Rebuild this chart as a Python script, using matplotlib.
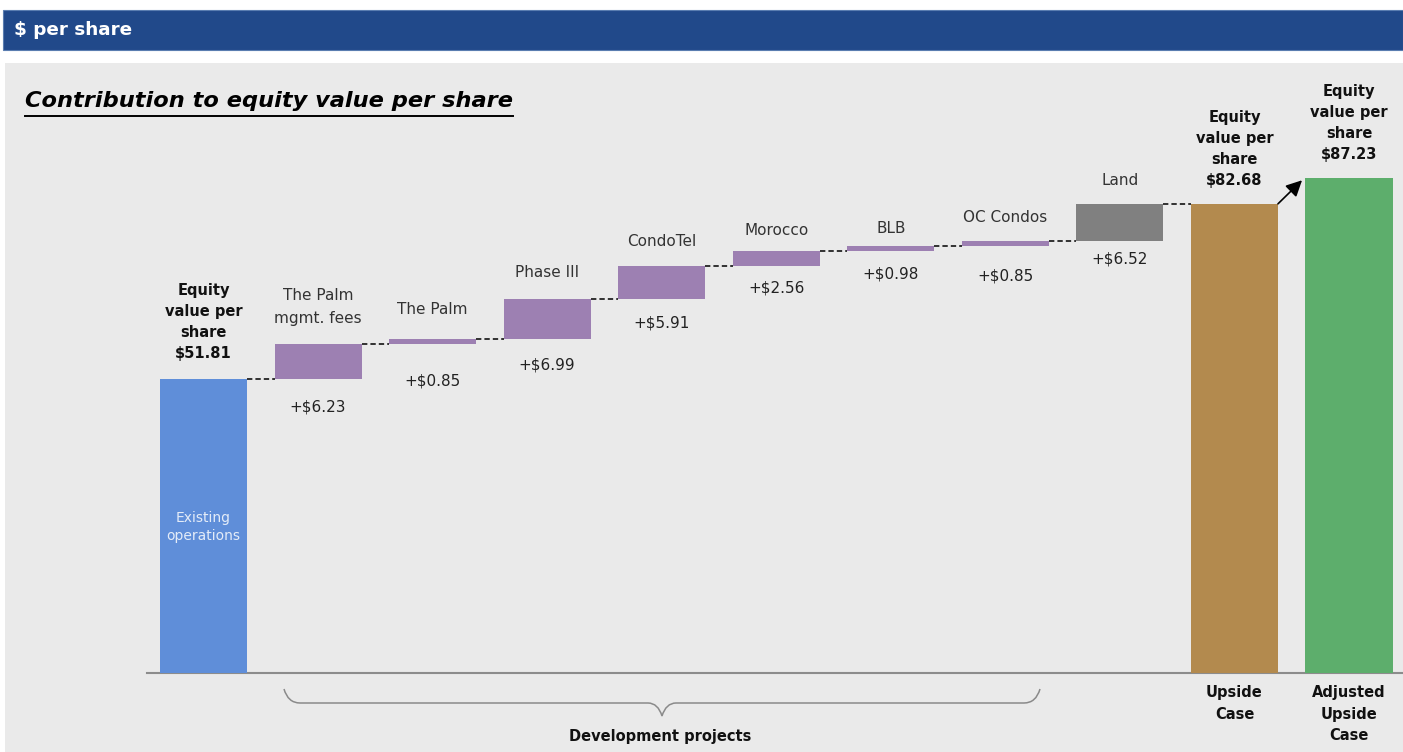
import matplotlib
matplotlib.use("Agg")
import matplotlib.pyplot as plt
import numpy as np
from matplotlib.path import Path
from matplotlib.patches import PathPatch, Rectangle

# ---------------- data ----------------
start_label = "Equity\nvalue per\nshare\n$51.81"
start_value = 51.81
project_names = ["The Palm\nmgmt. fees", "The Palm", "Phase III", "CondoTel",
                 "Morocco", "BLB", "OC Condos", "Land"]
project_values = [6.23, 0.85, 6.99, 5.91, 2.56, 0.98, 0.85, 6.52]
upside_value = 82.68
adjusted_value = 87.23
upside_label = "Equity\nvalue per\nshare\n$82.68"
adjusted_label = "Equity\nvalue per\nshare\n$87.23"
bottom_labels = ["Upside\nCase", "Adjusted\nUpside\nCase"]
group_label = "Development projects"
inside_label = "Existing\noperations"

# ---------------- style ----------------
W, H = 1403, 752
DPI = 100
PT = 72.0 / DPI  # points per pixel
C_HEADER = "#21498A"
C_PANEL = "#EAEAEA"
C_BLUE = "#5F8ED9"
C_PURPLE = "#9D80B2"
C_GRAY = "#808080"
C_BROWN = "#B38A4E"
C_GREEN = "#5DAE6C"
proj_colors = [C_PURPLE] * 7 + [C_GRAY]
# per-label pixel offsets (style)
name_gap_px = [21, 25, 22, 20, 16, 13, 19, 19]
value_gap_px = [28, 37, 26, 24, 22, 23, 30, 18]

plt.rcParams["font.family"] = ["DejaVu Sans"]

fig = plt.figure(figsize=(W / DPI, H / DPI), dpi=DPI)
fig.patch.set_facecolor("white")

# background axes in pixel coordinates
bg = fig.add_axes([0, 0, 1, 1], zorder=0)
bg.set_xlim(0, W)
bg.set_ylim(H, 0)
bg.axis("off")
bg.add_patch(Rectangle((3, 10), W - 3, 40, facecolor=C_HEADER, edgecolor="#5A7DB0", lw=0.8))
bg.text(14, 30, "$ per share", color="white", fontsize=13.2, fontweight="bold",
        va="center", ha="left")
bg.add_patch(Rectangle((5, 63), W - 5, H - 63, facecolor=C_PANEL, edgecolor="none"))
title = bg.text(25, 101, "Contribution to equity value per share", fontsize=16.2,
                fontweight="bold", fontstyle="italic", va="center", ha="left", color="black")
fig.canvas.draw()
bb = title.get_window_extent()
x0, x1 = bb.x0, bb.x1
bg.plot([x0, x1], [116, 116], color="black", lw=1.4)

# main axes: y=0 at pixel 673, top at pixel 63; bar centers at 203.5 + 114.55*i
base_px, top_px = 673, 63
px_per_unit = 294.0 / start_value
ymax = (base_px - top_px) / px_per_unit
c0, step = 203.5, 114.55
xl = (147 - c0) / step
xr = (W - c0) / step
ax = fig.add_axes([147 / W, (H - base_px) / H, (W - 147) / W, (base_px - top_px) / H], zorder=1)
ax.set_xlim(xl, xr)
ax.set_ylim(0, ymax)
ax.patch.set_alpha(0)
for s in ["top", "left", "right"]:
    ax.spines[s].set_visible(False)
ax.spines["bottom"].set_color("#8C8C8C")
ax.spines["bottom"].set_linewidth(1.5)
ax.set_xticks([])
ax.set_yticks([])

n = len(project_values)
xs = np.arange(n + 3)
bw = 0.76
cum = np.cumsum([start_value] + project_values)
proj_bottoms = cum[:-1]

ax.bar(xs[0], start_value, bw, color=C_BLUE, zorder=3)
ax.bar(xs[1:n + 1], project_values, bw, bottom=proj_bottoms, color=proj_colors, zorder=3)
ax.bar(xs[n + 1], upside_value, bw, color=C_BROWN, zorder=3)
ax.bar(xs[n + 2], adjusted_value, bw, color=C_GREEN, zorder=3)

# connectors (top of bar i to next bar)
levels = list(cum)
for i in range(n + 1):
    ax.plot([xs[i] + bw / 2, xs[i + 1] - bw / 2], [levels[i], levels[i]],
            color="black", lw=1.1, ls=(0, (3.5, 2)), zorder=2)

# arrow upside -> adjusted
ax.annotate("", xy=(xs[n + 2] - bw / 2 - 0.03, adjusted_value - 0.4),
            xytext=(xs[n + 1] + bw / 2, upside_value),
            arrowprops=dict(arrowstyle="-|>", color="black", lw=1.2,
                            mutation_scale=24, shrinkA=0, shrinkB=0), zorder=4)

# labels for big bars
big = [(xs[0], start_value, start_label), (xs[n + 1], upside_value, upside_label),
       (xs[n + 2], adjusted_value, adjusted_label)]
big_gap = [21, 19, 19]
for (x, v, lab), g in zip(big, big_gap):
    ax.annotate(lab, (x, v), xytext=(0, g * PT), textcoords="offset points",
                ha="center", va="baseline", fontsize=10.5, fontweight="bold",
                color="#111111", linespacing=1.5)

ax.text(xs[0], (base_px - 527) / px_per_unit, inside_label, ha="center", va="center",
        fontsize=10, color="#E4ECF8", linespacing=1.3, zorder=4)

# project labels
for i in range(n):
    x = xs[i + 1]
    top = proj_bottoms[i] + project_values[i]
    ax.annotate(project_names[i], (x, top), xytext=(0, name_gap_px[i] * PT),
                textcoords="offset points", ha="center", va="baseline",
                fontsize=11, color="#333333", linespacing=1.6)
    ax.annotate("+$%.2f" % project_values[i], (x, proj_bottoms[i]),
                xytext=(0, -value_gap_px[i] * PT), textcoords="offset points",
                ha="center", va="center", fontsize=11, color="#222222")

# bottom labels
for x, lab in zip([xs[n + 1], xs[n + 2]], bottom_labels):
    ax.annotate(lab, (x, 0), xytext=(0, -12 * PT), textcoords="offset points",
                ha="center", va="top", fontsize=10.5, fontweight="bold",
                color="#111111", linespacing=1.55)

# brace under development projects (pixel coords on bg)
bl, br, bm = 284, 1040, 662
yl, yb, yt = 689, 703, 716
verts = [(bl, yl), (bl + 4, yb), (bl + 16, yb),
         (bm - 14, yb),
         (bm - 4, yb), (bm, yt),
         (bm + 4, yb), (bm + 14, yb),
         (br - 16, yb),
         (br - 4, yb), (br, yl)]
codes = [Path.MOVETO, Path.CURVE3, Path.CURVE3,
         Path.LINETO,
         Path.CURVE3, Path.CURVE3,
         Path.CURVE3, Path.CURVE3,
         Path.LINETO,
         Path.CURVE3, Path.CURVE3]
bg.add_patch(PathPatch(Path(verts, codes), facecolor="none", edgecolor="#8A8A8A", lw=1.1,
                       zorder=2))
bg.text(bm - 2, 737, group_label, ha="center", va="center", fontsize=10.5,
        fontweight="bold", color="#111111", zorder=2)

fig.savefig("out.png", dpi=DPI)
